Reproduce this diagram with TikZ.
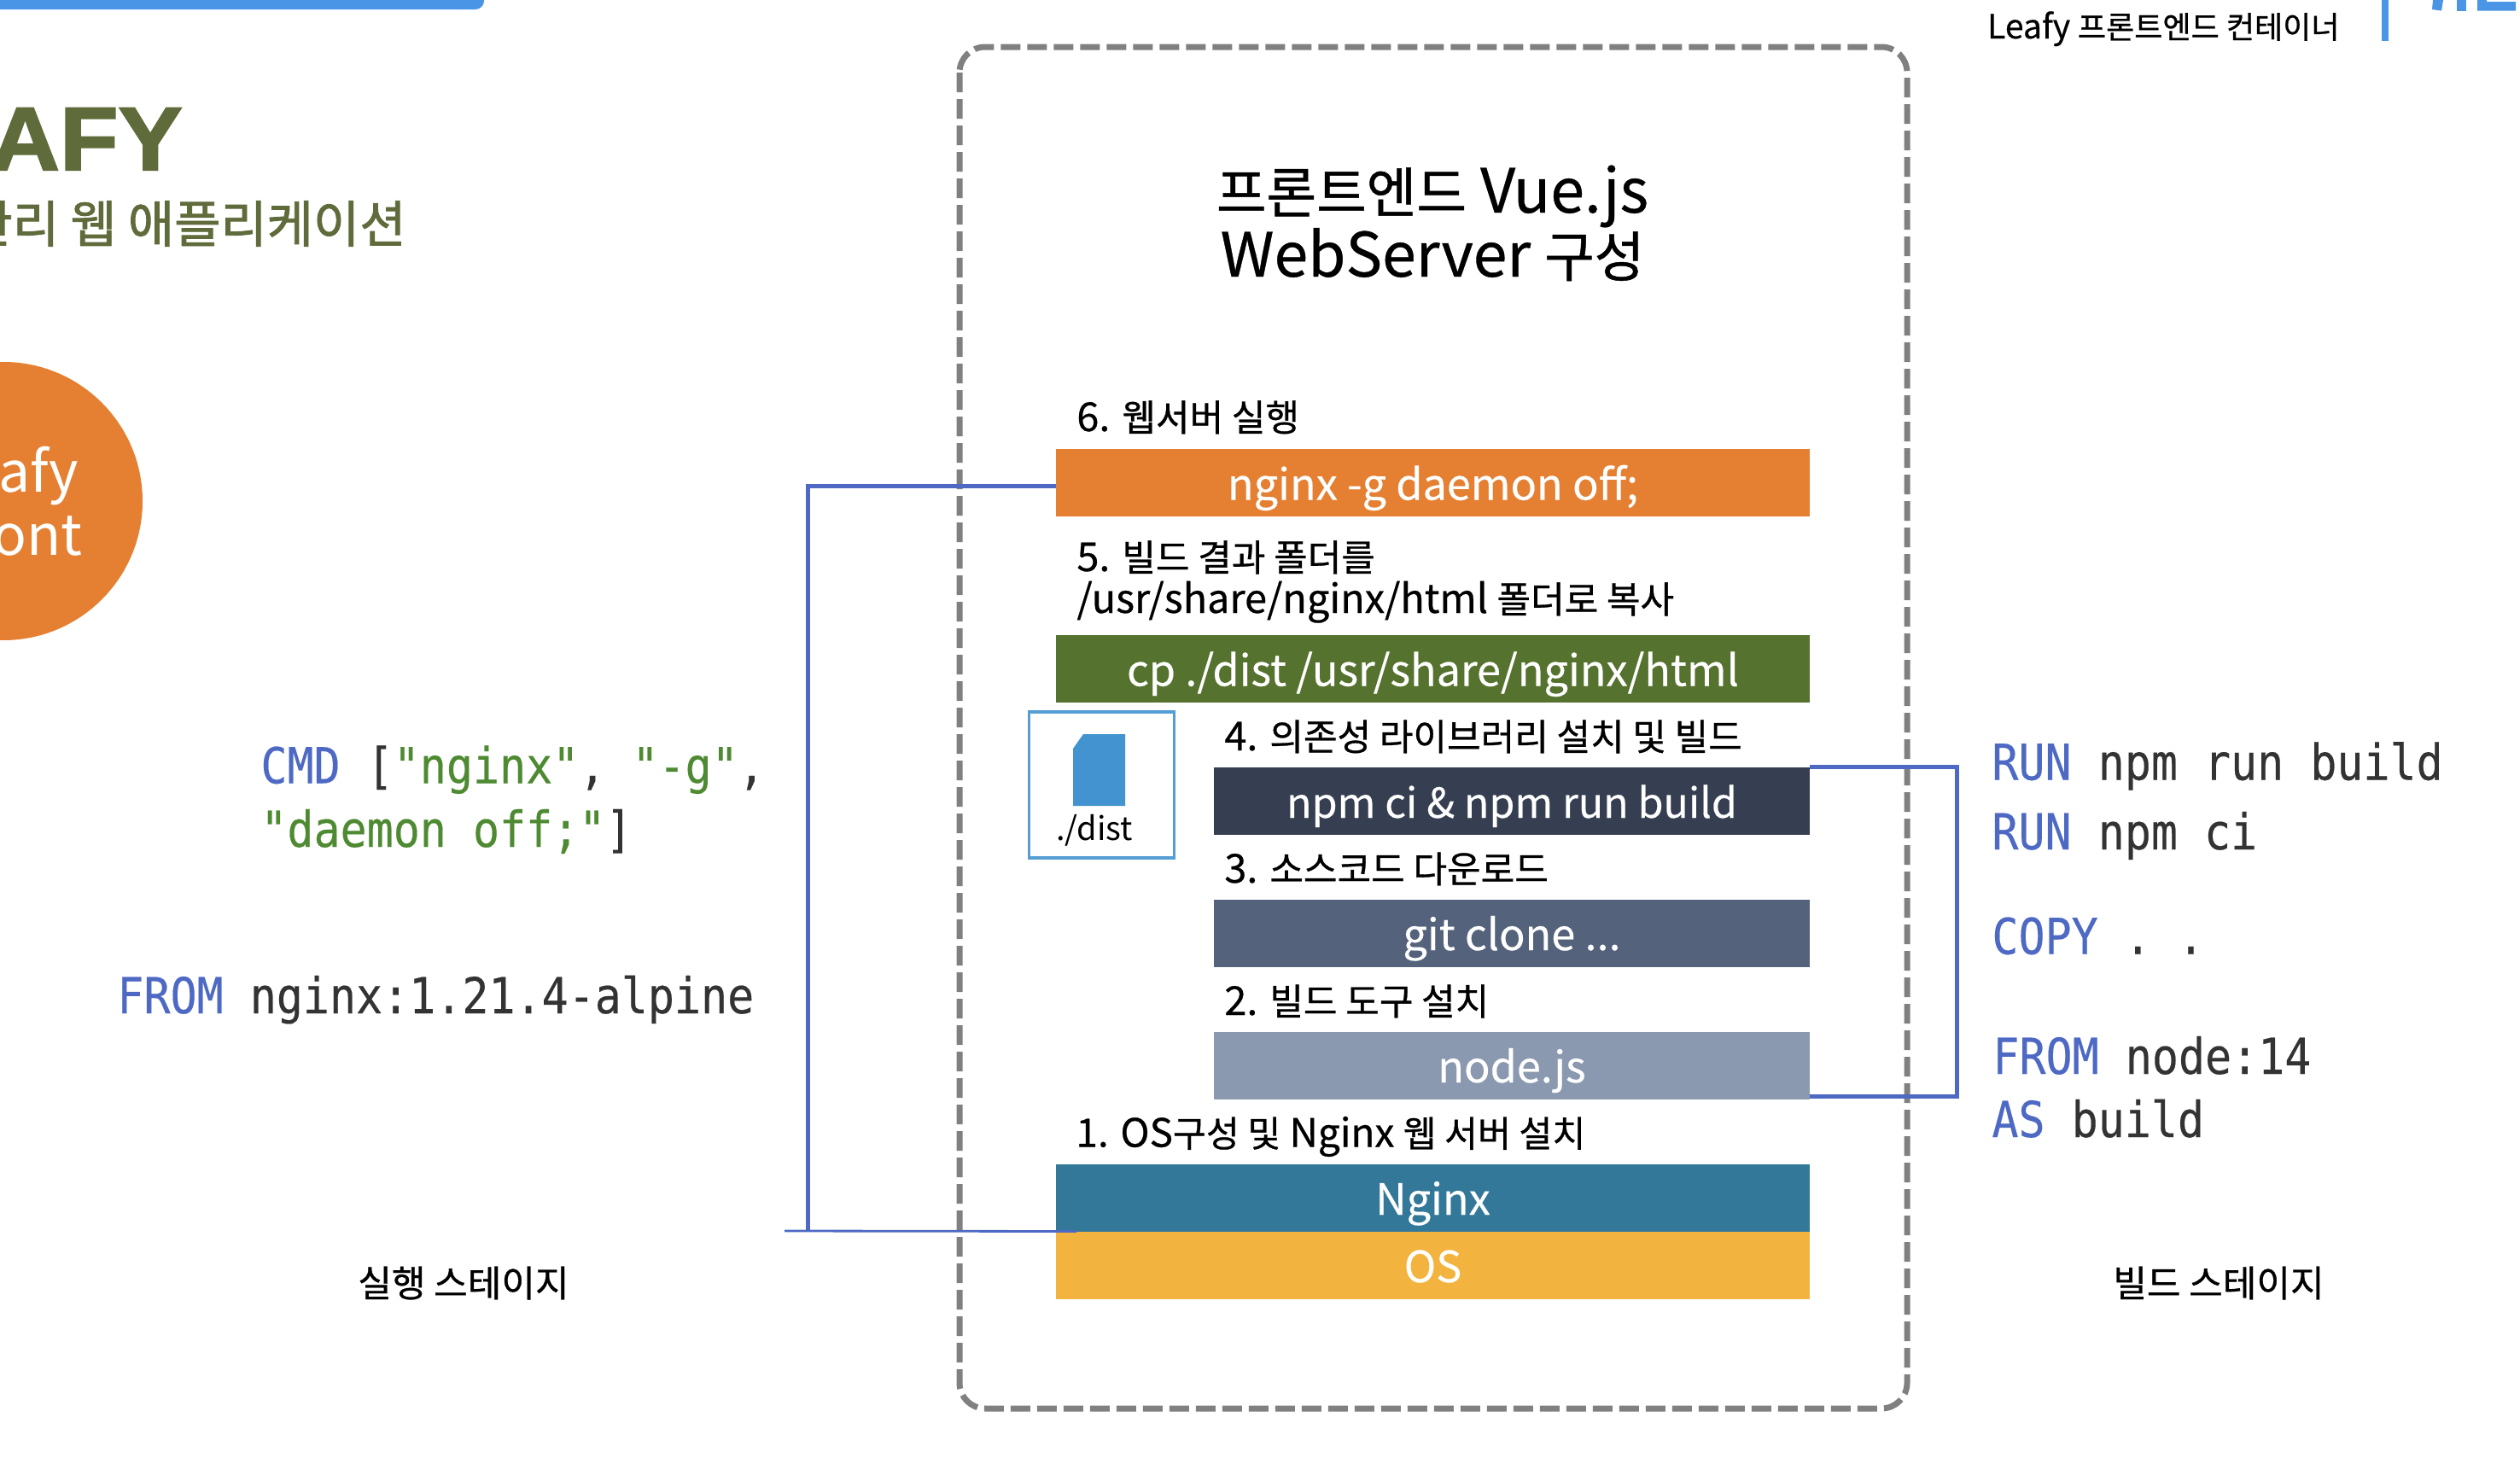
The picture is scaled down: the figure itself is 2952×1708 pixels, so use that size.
\documentclass[tikz,border=0pt]{standalone}
\usepackage{fontspec}
\setmainfont{Noto Sans CJK KR}
\newfontfamily\krm[FakeBold=0.5]{Noto Sans CJK KR}
\newfontfamily\barf[FakeBold=0.35]{Noto Sans CJK KR}
\newfontfamily\ks[FakeBold=0.7,Scale=0.92]{Noto Sans CJK KR}
\newfontfamily\kt[FakeBold=0.8,Scale=0.89]{Noto Sans CJK KR}
\newfontfamily\subf[FakeBold=1.5]{Noto Sans CJK KR}
\newfontfamily\hd[FakeStretch=1.07,FakeBold=2]{Liberation Sans}
\newfontfamily\codefont[FakeStretch=0.89,FakeBold=0.3]{DejaVu Sans Mono}
\definecolor{cblue}{HTML}{4A95E6}
\definecolor{corange}{HTML}{E58032}
\definecolor{cgreen}{HTML}{55722E}
\definecolor{cdark}{HTML}{363F52}
\definecolor{cgit}{HTML}{54627B}
\definecolor{cnode}{HTML}{8A98B0}
\definecolor{cnginx}{HTML}{337899}
\definecolor{cos}{HTML}{F3B43F}
\definecolor{cline}{HTML}{4D69C4}
\definecolor{cfile}{HTML}{4293CF}
\definecolor{cleaf}{HTML}{5F6B3A}
\definecolor{kw}{HTML}{4D69C4}
\definecolor{str}{HTML}{4E8A32}
\definecolor{txt}{HTML}{333333}
\tikzset{
  x=0.5pt,y=-0.5pt,
  barbox/.style={rectangle,inner sep=0pt,outer sep=0pt,text=white,font=\barf\fontsize{25.2}{30}\selectfont,
    minimum height=39.5pt,text height=23pt,text depth=3pt},
  wide/.style={barbox,minimum width=441.5pt},
  short/.style={barbox,minimum width=349pt},
  lab/.style={anchor=base west,inner sep=0pt,font=\krm\fontsize{23.4}{25}\selectfont,text=black},
  code/.style={anchor=base west,inner sep=0pt,font=\codefont\fontsize{29}{32}\selectfont,text=txt},
  link/.style={draw=cline,line width=2.5pt},
  stagelab/.style={anchor=center,inner sep=0pt,font=\ks\fontsize{23.4}{25}\selectfont,text=black},
  titlef/.style={anchor=base,inner sep=0pt,font=\krm\fontsize{35.8}{40}\selectfont}
}
\begin{document}
\begin{tikzpicture}
\useasboundingbox (0,0) rectangle (2952,1708);
\fill[white] (0,0) rectangle (2952,1708);
% top bar
\fill[cblue,rounded corners=5pt] (-40,-20) rectangle (567,11);
% top right fragments
\fill[cblue] (2790,0) rectangle (2798,48);
\fill[cblue] (2850,0) -- (2862,0) -- (2860,12.6) -- (2849,11) -- cycle;
\fill[cblue] (2878,0) rectangle (2889,12.6);
\fill[cblue] (2902,0) -- (2913,0) -- (2913,2) -- (2947,2) -- (2947,12.6) -- (2902,12.6) -- cycle;
\node[anchor=base east,inner sep=0pt,font=\krm\fontsize{19.6}{24}\selectfont] (toplab) at (2741,45) {Leafy {\ks 프론트엔드 컨테이너}};
% heading
\node[anchor=base east,inner sep=0pt,text=cleaf,font=\hd\bfseries\fontsize{52.5}{56}\selectfont] (leafy) at (214,199) {AFY};
\node[anchor=base east,inner sep=0pt,text=cleaf,font=\subf\fontsize{29.5}{32}\selectfont] (sub) at (476,284) {관리 웹 애플리케이션};
% circle
\node[circle,fill=corange,minimum size=163pt,inner sep=0pt] (circ) at (4,587) {};
\node[anchor=base east,inner sep=0pt,text=white,font=\fontsize{33}{36}\selectfont] (c1) at (92,576) {afy};
\node[anchor=base east,inner sep=0pt,text=white,font=\fontsize{33}{36}\selectfont] (c2) at (97,650) {ont};
% dashed frame
\draw[draw=black!50,line width=3.5pt,dash pattern=on 11.5pt off 4pt,rounded corners=15pt] (1124,55) rectangle (2234,1650);
% title
\node[titlef] (t1) at (1678,249) {{\kt 프론트엔드} Vue.js};
\node[titlef] (t2) at (1678,324) {WebServer {\kt 구성}};
% bars
\node[wide,fill=corange] (b6) at (1678.5,565.5) {nginx -g daemon off;};
\node[wide,fill=cgreen] (b5) at (1678.5,783.5) {cp ./dist /usr/share/nginx/html};
\node[short,fill=cdark,font=\barf\fontsize{24.2}{30}\selectfont] (b4) at (1771,938) {npm ci \& npm run build};
\node[short,fill=cgit] (b3) at (1771,1093) {git clone ...};
\node[short,fill=cnode] (b2) at (1771,1248) {node.js};
\node[wide,fill=cnginx] (b1a) at (1678.5,1403) {Nginx};
\node[wide,fill=cos] (b1b) at (1678.5,1482) {OS};
% labels
\node[lab] (l6) at (1261,505) {6. {\ks 웹서버 실행}};
\node[lab] (l5a) at (1261,669) {5. {\ks 빌드 결과 폴더를}};
\node[lab] (l5b) at (1261,718) {/usr/share/nginx/html {\ks 폴더로 복사}};
\node[lab] (l4) at (1434,879) {4. {\ks 의존성 라이브러리 설치 및 빌드}};
\node[lab] (l3) at (1434,1034) {3. {\ks 소스코드 다운로드}};
\node[lab] (l2) at (1434,1189) {2. {\ks 빌드 도구 설치}};
\node[lab,font=\krm\fontsize{23}{25}\selectfont] (l1) at (1260,1343.5) {1. OS{\ks 구성 및} Nginx {\ks 웹 서버 설치}};
% dist
\node[rectangle,draw=cfile!90!white,line width=1.75pt,fill=white,minimum width=85pt,minimum height=85.5pt,inner sep=0pt] (dist) at (1290.5,919.5) {};
\fill[cfile] (1257,877) -- (1269,860) -- (1318,860) -- (1318,944) -- (1257,944) -- cycle;
\node[anchor=base,inner sep=0pt,font=\fontsize{19}{22}\selectfont] (distlab) at (1282,984) {./dist};
% connectors
\coordinate (corner) at (946,1442);
\coordinate (tail) at (919,1442);
\coordinate (rx) at (2292,1000);
\draw[link] ([yshift=-1.75pt]b6.west) -| (corner);
\draw[draw=cline,line width=1.4pt] (tail) -- ([xshift=12pt]b1a.south west);
\draw[link] (b4.north east) -| (rx) |- ([yshift=1.75pt]b2.south east);
% code
\node[code] (cmd1) at (305,917.5) {\textcolor{kw}{CMD} [\textcolor{str}{"nginx"}, \textcolor{str}{"-g"},};
\node[code] (cmd2) at (305,992) {\textcolor{str}{"daemon off;"}]};
\node[code] (from1) at (137,1187) {\textcolor{kw}{FROM} nginx:1.21.4-alpine};
\node[code] (r1) at (2333,913.5) {\textcolor{kw}{RUN} npm run build};
\node[code] (r2) at (2333,995) {\textcolor{kw}{RUN} npm ci};
\node[code] (r3) at (2333,1117.5) {\textcolor{kw}{COPY} . .};
\node[code] (r4) at (2334,1258) {\textcolor{kw}{FROM} node:14};
\node[code] (r5) at (2333,1332) {\textcolor{kw}{AS} build};
% stage labels
\node[stagelab] (s1) at (543,1503) {실행 스테이지};
\node[stagelab] (s2) at (2599,1503) {빌드 스테이지};
\end{tikzpicture}
\end{document}
